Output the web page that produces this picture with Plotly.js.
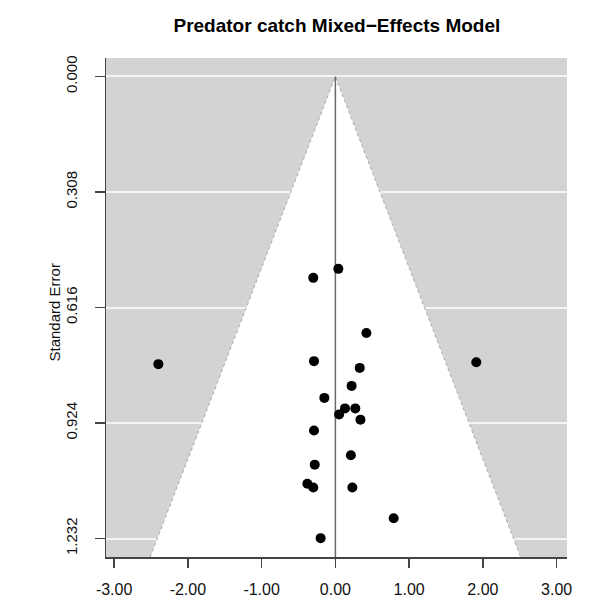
<!DOCTYPE html>
<html>
<head>
<meta charset="utf-8">
<script src="https://cdn.plot.ly/plotly-3.0.1.min.js"></script>
<style>html,body{margin:0;padding:0;background:#fff;}#chart{width:590px;height:600px;}</style>
</head>
<body>
<div id="chart"></div>
<script>
const effects = [0.04, -0.30, 0.42, -2.40, -0.29, 1.91, 0.33, 0.22, -0.15, 0.13, 0.27, 0.05, 0.34, -0.29, 0.21, -0.28, -0.38, -0.30, 0.23, 0.79, -0.20];
const stdErrors = [0.513, 0.537, 0.684, 0.767, 0.759, 0.762, 0.777, 0.825, 0.857, 0.885, 0.885, 0.901, 0.915, 0.944, 1.010, 1.035, 1.086, 1.096, 1.096, 1.178, 1.231];
const estimate = 0.0;
const seTicks = [0.000, 0.308, 0.616, 0.924, 1.232];
const seTickText = ["0.000", "0.308", "0.616", "0.924", "1.232"];
const xTicks = [-3, -2, -1, 0, 1, 2, 3];
const xTickText = ["-3.00", "-2.00", "-1.00", "0.00", "1.00", "2.00", "3.00"];

const seMax = seTicks[seTicks.length - 1];
const yBottom = seMax * 1.04;
const yTop = -seMax * 0.04;
const z = 1.96;

const funnel = {
  x: [estimate - z * yBottom, estimate, estimate + z * yBottom],
  y: [yBottom, 0, yBottom],
  mode: 'lines', fill: 'toself', fillcolor: '#ffffff',
  line: {color: '#a8a8a8', width: 1, dash: 'dot'},
  hoverinfo: 'skip', showlegend: false
};
const center = {
  x: [estimate, estimate], y: [0, yBottom], mode: 'lines',
  line: {color: '#6a6a6a', width: 1.5}, hoverinfo: 'skip', showlegend: false
};
const pts = {
  x: effects, y: stdErrors, mode: 'markers', type: 'scatter',
  marker: {color: '#000000', size: 10}, showlegend: false
};

const fam = 'Liberation Sans, Arial, sans-serif';
const layout = {
  width: 590, height: 600,
  margin: {l: 106, r: 23, t: 58, b: 43},
  paper_bgcolor: '#ffffff', plot_bgcolor: '#d3d3d3',
  font: {family: fam, color: '#111', size: 14},
  title: {text: '<b>Predator catch Mixed\u2212Effects Model</b>', x: 0.571, xanchor: 'center', y: 0.958, yanchor: 'middle',
          font: {family: fam, size: 19, color: '#000'}},
  xaxis: {range: [-3.11, 3.14], tickvals: xTicks, ticktext: xTickText, showgrid: false, zeroline: false,
          showline: true, linecolor: '#444', linewidth: 1.5, ticks: 'outside', ticklen: 9, tickwidth: 1.5, tickcolor: '#444',
          ticklabelstandoff: 8, tickfont: {family: fam, size: 16, color: '#111'}},
  yaxis: {range: [yBottom, yTop], tickvals: seTicks, ticktext: seTickText, showgrid: true, gridcolor: '#f4f4f4', gridwidth: 2,
          zeroline: false, showline: true, linecolor: '#444', linewidth: 1.5, ticks: 'outside', ticklen: 10, tickwidth: 1.5, tickcolor: '#444',
          tickangle: -90, ticklabelstandoff: 12, tickfont: {family: fam, size: 15, color: '#111'}},
  annotations: [
    {text: 'Standard Error', xref: 'paper', yref: 'paper', x: 0, y: 0.49, xshift: -52, textangle: -90,
     showarrow: false, xanchor: 'center', yanchor: 'middle', font: {family: fam, size: 15, color: '#111'}}
  ]
};
Plotly.newPlot('chart', [funnel, center, pts], layout, {displayModeBar: false, staticPlot: true});
</script>
</body>
</html>
